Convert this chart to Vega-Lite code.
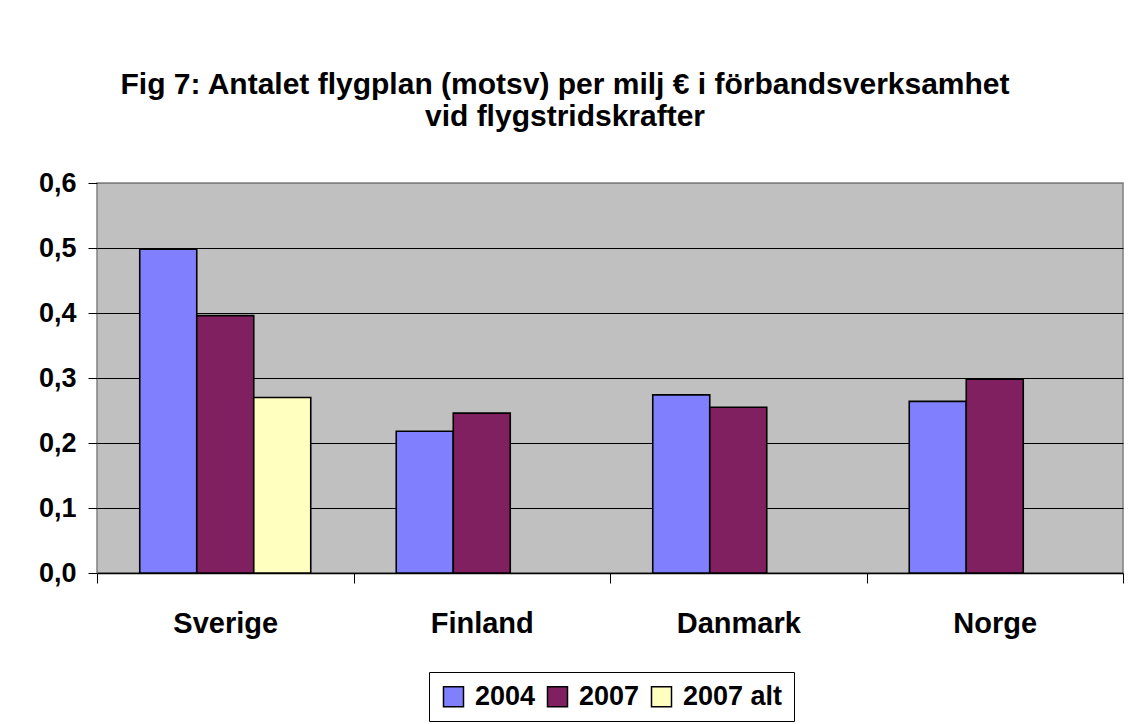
{
  "$schema": "https://vega.github.io/schema/vega-lite/v6.json",
  "autosize": "none",
  "width": 1026,
  "height": 390,
  "padding": {"left": 97, "top": 183, "right": 5, "bottom": 151},
  "background": "white",
  "title": {
    "text": ["Fig 7: Antalet flygplan (motsv) per milj € i förbandsverksamhet", "vid flygstridskrafter"],
    "font": "Liberation Sans",
    "fontSize": 30,
    "fontWeight": "bold",
    "color": "black",
    "anchor": "middle",
    "dx": -45,
    "offset": 37,
    "lineHeight": 32
  },
  "data": {
    "values": [
      {"land": "Sverige", "serie": "2004", "varde": 0.498},
      {"land": "Sverige", "serie": "2007", "varde": 0.396},
      {"land": "Sverige", "serie": "2007 alt", "varde": 0.270},
      {"land": "Finland", "serie": "2004", "varde": 0.218},
      {"land": "Finland", "serie": "2007", "varde": 0.246},
      {"land": "Danmark", "serie": "2004", "varde": 0.274},
      {"land": "Danmark", "serie": "2007", "varde": 0.255},
      {"land": "Norge", "serie": "2004", "varde": 0.264},
      {"land": "Norge", "serie": "2007", "varde": 0.298}
    ]
  },
  "mark": {"type": "bar", "stroke": "black", "strokeWidth": 1.6},
  "encoding": {
    "x": {
      "field": "land",
      "type": "nominal",
      "sort": ["Sverige", "Finland", "Danmark", "Norge"],
      "scale": {"paddingInner": 0, "paddingOuter": 0},
      "axis": {
        "title": null,
        "labelAngle": 0,
        "labelFont": "Liberation Sans",
        "labelFontSize": 29,
        "labelFontWeight": "bold",
        "labelColor": "black",
        "labelPadding": 26,
        "tickBand": "extent",
        "tickSize": 10,
        "tickColor": "black",
        "domainColor": "black",
        "domainWidth": 1.5,
        "grid": false
      }
    },
    "xOffset": {
      "field": "serie",
      "type": "nominal",
      "scale": {"domain": ["2004", "2007", "2007 alt"], "paddingInner": 0, "paddingOuter": 0.75}
    },
    "y": {
      "field": "varde",
      "type": "quantitative",
      "scale": {"domain": [0, 0.6], "nice": false},
      "axis": {
        "title": null,
        "values": [0, 0.1, 0.2, 0.3, 0.4, 0.5, 0.6],
        "labelExpr": "replace(format(datum.value, '.1f'), '.', ',')",
        "labelFont": "Liberation Sans",
        "labelFontSize": 27,
        "labelFontWeight": "bold",
        "labelColor": "black",
        "labelPadding": 12,
        "tickSize": 9,
        "tickColor": "black",
        "domain": false,
        "grid": true,
        "gridColor": {"condition": {"test": "datum.value >= 0.6 || datum.value <= 0", "value": "#808080"}, "value": "black"},
        "gridOpacity": 1,
        "gridWidth": 1
      }
    },
    "color": {
      "field": "serie",
      "type": "nominal",
      "scale": {"domain": ["2004", "2007", "2007 alt"], "range": ["#8080FF", "#802060", "#FFFFC0"]},
      "legend": {
        "title": null,
        "orient": "none",
        "legendX": 332,
        "legendY": 489,
        "direction": "horizontal",
        "columns": 3,
        "strokeColor": "black",
        "fillColor": "white",
        "padding": 11,
        "columnPadding": 8,
        "symbolType": "square",
        "symbolSize": 400,
        "symbolStrokeColor": "black",
        "symbolStrokeWidth": 1.5,
        "symbolOpacity": 1,
        "labelFont": "Liberation Sans",
        "labelFontSize": 27,
        "labelFontWeight": "bold",
        "labelColor": "black",
        "labelOffset": 8
      }
    }
  },
  "config": {
    "view": {"fill": "#C0C0C0", "stroke": "#808080", "strokeWidth": 1.5}
  }
}
